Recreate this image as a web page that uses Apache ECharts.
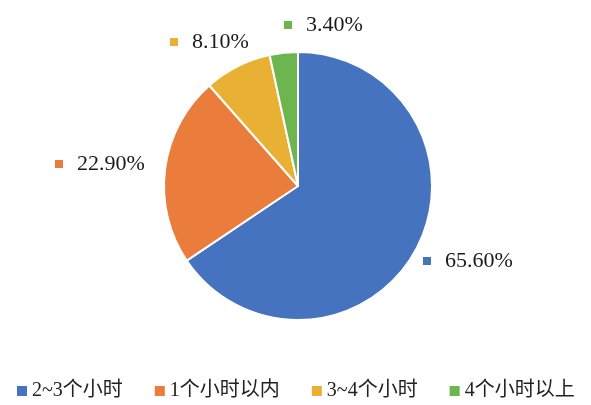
<!DOCTYPE html>
<html>
<head>
<meta charset="utf-8">
<script src="https://cdn.jsdelivr.net/npm/echarts@6/dist/echarts.min.js"></script>
<style>
html,body{margin:0;padding:0;background:#fff;}
#chart{width:591px;height:405px;}
</style>
</head>
<body>
<div id="chart"></div>
<script>
const categories = ['2~3个小时', '1个小时以内', '3~4个小时', '4个小时以上'];
const values = [65.6, 22.9, 8.1, 3.4];
const labelTexts = ['65.60%', '22.90%', '8.10%', '3.40%'];
const colors = ['#4673C0', '#EA7D3C', '#E9B134', '#6DB54F'];
const labelAnchors = [[423, 261], [55, 164], [170, 42], [284, 25]];

const FONT = '"Liberation Serif", "Times New Roman", "Noto Sans CJK SC", serif';

const chart = echarts.init(document.getElementById('chart'), null, {renderer: 'canvas'});
chart.setOption({
  animation: false,
  color: colors,
  legend: {
    data: categories,
    left: 12,
    top: 374,
    icon: 'rect',
    itemWidth: 10,
    itemHeight: 10,
    itemGap: 32,
    itemTextGap: 9,
    itemStyle: {borderWidth: 0},
    textStyle: {fontFamily: FONT, fontSize: 20, color: '#222', lineHeight: 24}
  },
  series: [{
    type: 'pie',
    center: [298, 186],
    radius: 134,
    startAngle: 90,
    clockwise: true,
    itemStyle: {borderColor: '#fff', borderWidth: 2},
    labelLine: {show: false},
    label: {
      show: true,
      position: 'outside',
      formatter: function (p) { return '{m|}{t|' + labelTexts[p.dataIndex] + '}'; },
      rich: {
        m: {width: 8, height: 8, backgroundColor: 'inherit'},
        t: {fontFamily: FONT, fontSize: 22, color: '#1a1a1a', padding: [0, 0, 0, 14]}
      }
    },
    labelLayout: function (params) {
      const a = labelAnchors[params.dataIndex];
      return {x: a[0], y: a[1], align: 'left', verticalAlign: 'middle', hideOverlap: false};
    },
    data: categories.map(function (c, i) {
      return {
        name: c, value: values[i],
        label: {rich: {m: {width: 8, height: 8, backgroundColor: colors[i]}}}
      };
    })
  }]
});
</script>
</body>
</html>
